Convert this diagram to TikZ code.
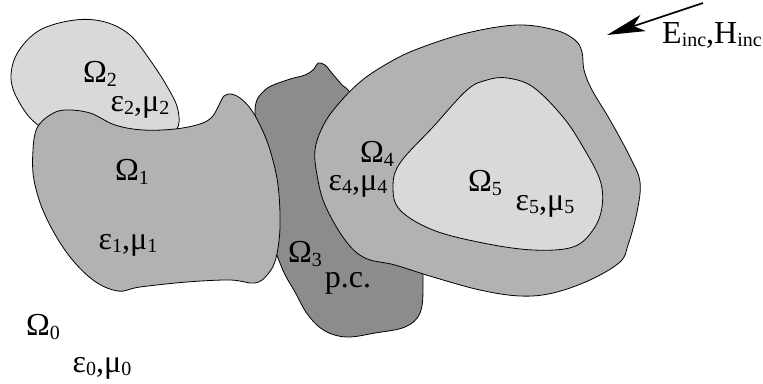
\documentclass[tikz,border=0pt]{standalone}
\usepackage{fontspec}
\setmainfont{Liberation Serif}
\usepackage{tikz}
\usetikzlibrary{arrows.meta}
\definecolor{lightfill}{gray}{0.85}
\definecolor{midfill}{gray}{0.70}
\definecolor{darkfill}{gray}{0.55}
\newcommand{\lo}[1]{\raisebox{-0.12em}{\fontsize{20}{20}\selectfont #1}}

\begin{document}
\begin{tikzpicture}[x=1pt,y=-1pt,
  region/.style={draw=black,line width=0.8pt,smooth cycle,tension=0.6},
  lbl/.style={font=\fontsize{32}{34}\selectfont,inner sep=0pt}]
\useasboundingbox (0,0) rectangle (763,383);

\path[region,fill=lightfill] plot coordinates {(11,77) (18,52) (40,30) (75,20) (105,22) (130,35) (150,60) (168,88) (178,110) (176,130) (150,145) (80,145) (38,125) (18,100)};
\path[region,fill=darkfill] plot coordinates {(255,110) (265,90) (287,80) (305,75) (314,69) (318,63) (325,65) (331,72) (342,85) (355,100) (400,180) (420,250) (423,285) (420,313) (405,327) (375,333) (347,337) (325,331) (308,315) (295,292) (282,268) (270,230) (262,160)};
\path[region,fill=midfill] plot coordinates {(37,128) (50,115) (65,110) (90,113) (115,125) (143,130) (175,129) (200,124) (212,117) (219,105) (224,96) (231,94) (240,98) (250,108) (260,125) (270,150) (278,185) (280,227) (276,258) (268,274) (255,283) (230,280) (187,282) (140,287) (118,291) (93,280) (67,253) (45,215) (34,180) (33,150)};
\path[region,fill=midfill] plot coordinates {(315,150) (322,128) (335,108) (360,82) (390,62) (420,48) (467,33) (517,25) (555,30) (575,40) (582,52) (584,70) (592,90) (610,120) (630,157) (640,182) (637,212) (628,245) (620,262) (590,280) (553,293) (520,296) (480,290) (433,277) (395,265) (365,258) (345,240) (325,205) (317,175)};
\path[region,fill=lightfill] plot coordinates {(507,78) (533,87) (563,117) (583,147) (600,180) (602,207) (593,230) (573,247) (533,250) (483,243) (433,230) (400,210) (393,187) (400,163) (433,127) (467,90) (487,80)};

\node[lbl] (omega_0) at (43,327) {Ω\lo{0}};
\node[lbl] (param_0) at (102,368) {ε\lo{0},μ\lo{0}};
\node[lbl] (omega_1) at (132,172) {Ω\lo{1}};
\node[lbl] (param_1) at (128,245) {ε\lo{1},μ\lo{1}};
\node[lbl] (omega_2) at (100,74) {Ω\lo{2}};
\node[lbl] (param_2) at (140,107) {ε\lo{2},μ\lo{2}};
\node[lbl] (omega_3) at (305,254) {Ω\lo{3}};
\node[lbl] (param_3) at (348,283) {p.c.};
\node[lbl] (omega_4) at (377,154) {Ω\lo{4}};
\node[lbl] (param_4) at (358,186) {ε\lo{4},μ\lo{4}};
\node[lbl] (omega_5) at (485,183) {Ω\lo{5}};
\node[lbl] (param_5) at (545,206) {ε\lo{5},μ\lo{5}};
\node[lbl] (field) at (712,35) {E\lo{inc},H\lo{inc}};

\coordinate (wave_start) at (703,3);
\coordinate (wave_end) at (607,35);
\draw[line width=1.6pt,-{Stealth[length=38pt,width=17pt,inset=10pt]}] (wave_start) -- (wave_end);
\end{tikzpicture}
\end{document}
